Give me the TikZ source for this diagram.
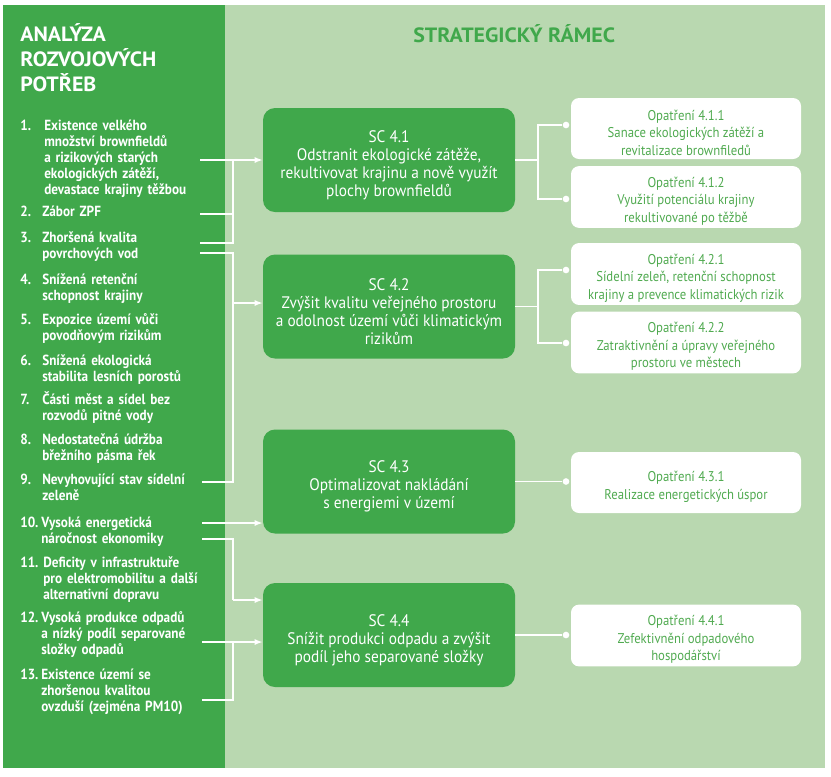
\documentclass[tikz,border=0pt]{standalone}
\usepackage{fontspec}
\setmainfont{PT Sans}
\newfontfamily\condf[FakeStretch=0.9]{PT Sans}
\newfontfamily\scf[FakeStretch=0.92]{PT Sans}
\newfontfamily\ttlf[FakeStretch=1.06]{PT Sans}
\usetikzlibrary{arrows.meta,calc}
\definecolor{dkg}{RGB}{64,168,75}
\definecolor{ltg}{RGB}{185,216,176}
\definecolor{txg}{RGB}{80,170,80}
\newcommand{\sctop}{\rule{0pt}{16.5pt}}
\newcommand{\optop}{\rule{0pt}{14pt}}
\begin{document}
\begin{tikzpicture}[x=0.75pt,y=-0.75pt,
  scbox/.style={fill=dkg, rounded corners=9pt, minimum width=189pt, minimum height=78pt, text=white, align=center, inner sep=2pt, font=\scf\fontsize{12.5}{13.6}\selectfont},
  opbox/.style={fill=white, rounded corners=6pt, minimum width=172.5pt, minimum height=45.75pt, text=txg, align=center, inner sep=2pt, font=\condf\fontsize{10.6}{13.1}\selectfont},
  conn/.style={draw=white, line width=1.1pt},
  arr/.style={conn, -{Latex[length=6pt,width=4.5pt]}},
  dot/.style={circle, fill=white, inner sep=0pt, minimum size=5pt},
  num/.style={anchor=base west, text=white, inner sep=0pt, font=\condf\bfseries\fontsize{11}{12}\selectfont},
  itm/.style={anchor=base west, text=white, inner sep=0pt, align=left, text width=135pt, font=\condf\bfseries\fontsize{11}{12}\selectfont},
  ttl/.style={anchor=base west, inner sep=0pt, font=\ttlf\bfseries\fontsize{15.5}{18.75}\selectfont}
]
\useasboundingbox (0,0) rectangle (831,776);
\fill[white] (0,0) rectangle (831,776);
\fill[dkg] (3,5) rectangle (225,768);
\fill[ltg] (225,5) rectangle (825,768);

% titles
\node[ttl, text=white, align=left, text width=200pt] (ttlL) at (20,41) {ANALÝZA\\ROZVOJOVÝCH\\POTŘEB};
\node[ttl, text=dkg] (ttlR) at (413,42) {STRATEGICKÝ RÁMEC};

% left items
\node[num] (n1) at (20,130.5) {1.};
\node[itm] (t1) at (44,130.5) {Existence velkého\\množství brownfieldů\\a rizikových starých\\ekologických zátěží,\\devastace krajiny těžbou};
\node[num] (n2) at (20,216.5) {2.};
\node[itm] (t2) at (42,216.5) {Zábor ZPF};
\node[num] (n3) at (20,242.5) {3.};
\node[itm] (t3) at (42,242.5) {Zhoršená kvalita\\povrchových vod};
\node[num] (n4) at (20,284.5) {4.};
\node[itm] (t4) at (42,284.5) {Snížená retenční\\schopnost krajiny};
\node[num] (n5) at (20,324.5) {5.};
\node[itm] (t5) at (42,324.5) {Expozice území vůči\\povodňovým rizikům};
\node[num] (n6) at (20,365.5) {6.};
\node[itm] (t6) at (42,365.5) {Snížená ekologická\\stabilita lesních porostů};
\node[num] (n7) at (20,404.5) {7.};
\node[itm] (t7) at (42,404.5) {Části měst a sídel bez\\rozvodů pitné vody};
\node[num] (n8) at (20,444.5) {8.};
\node[itm] (t8) at (42,444.5) {Nedostatečná údržba\\břežního pásma řek};
\node[num] (n9) at (20,484.5) {9.};
\node[itm] (t9) at (42,484.5) {Nevyhovující stav sídelní\\zeleně};
\node[num] (n10) at (20,527.5) {10.};
\node[itm] (t10) at (41,527.5) {Vysoká energetická\\náročnost ekonomiky};
\node[num] (n11) at (20,567.5) {11.};
\node[itm] (t11) at (43,567.5) {Deficity v infrastruktuře\\pro elektromobilitu a další\\alternativní dopravu};
\node[num] (n12) at (20,622.5) {12.};
\node[itm] (t12) at (41,622.5) {Vysoká produkce odpadů\\a nízký podíl separované\\složky odpadů};
\node[num] (n13) at (20,679.5) {13.};
\node[itm] (t13) at (41,679.5) {Existence území se\\zhoršenou kvalitou\\ovzduší (zejména PM10)};

% SC boxes
\node[scbox] (sc41) at (389,160) {\sctop SC 4.1\\Odstranit ekologické zátěže,\\rekultivovat krajinu a nově využít\\plochy brownfieldů};
\node[scbox] (sc42) at (389,306.5) {\sctop SC 4.2\\Zvýšit kvalitu veřejného prostoru\\a odolnost území vůči klimatickým\\rizikům};
\node[scbox] (sc43) at (389,481.5) {\sctop SC 4.3\\Optimalizovat nakládání\\s energiemi v území};
\node[scbox] (sc44) at (389,635) {\sctop SC 4.4\\Snížit produkci odpadu a zvýšit\\podíl jeho separované složky};

% measures
\node[opbox] (op411) at (686,128.5) {\optop Opatření 4.1.1\\Sanace ekologických zátěží a\\revitalizace brownfiledů};
\node[opbox] (op412) at (686,197) {\optop Opatření 4.1.2\\Využití potenciálu krajiny\\rekultivované po těžbě};
\node[opbox] (op421) at (686,274) {\optop Opatření 4.2.1\\Sídelní zeleň, retenční schopnost\\krajiny a prevence klimatických rizik};
\node[opbox] (op422) at (686,342.5) {\optop Opatření 4.2.2\\Zatraktivnění a úpravy veřejného\\prostoru ve městech};
\node[opbox] (op431) at (686,482.5) {\optop Opatření 4.3.1\\Realizace energetických úspor};
\node[opbox] (op441) at (686,635.5) {\optop Opatření 4.4.1\\Zefektivnění odpadového\\hospodářství};

% dots
\node[dot] (d411) at (566,125) {};
\node[dot] (d412) at (566,199) {};
\node[dot] (d421) at (566,270) {};
\node[dot] (d422) at (566,343) {};
\node[dot] (d431) at (566,481.5) {};
\node[dot] (d441) at (566,635) {};

% right connectors
\coordinate (j41) at (538,160);
\coordinate (j42) at (538,306.5);
\draw[conn] (sc41.east) -- (j41) |- (d411);
\draw[conn] (j41) |- (d412);
\draw[conn] (sc42.east) -- (j42) |- (d421);
\draw[conn] (j42) |- (d422);
\draw[conn] (sc43.east) -- (d431);
\draw[conn] (sc44.east) -- (d441);

% left connectors
\coordinate (s1) at (200,160);
\coordinate (s2) at (200,214);
\coordinate (s3a) at (200,243);
\coordinate (s3b) at (200,253);
\coordinate (s9) at (202,482);
\coordinate (s10a) at (202,523);
\coordinate (s10b) at (202,539);
\coordinate (s12) at (202,642);
\coordinate (s13) at (202,700);
\coordinate (ja) at (233,160);
\coordinate (jb) at (233,303);
\coordinate (jd) at (233,600);
\coordinate (je) at (233,642);
\draw[arr] (s1) -- (s1 -| sc41.west);
\draw[conn] (s2) -| (ja);
\draw[conn] (s3a) -| (ja);
\draw[conn] (s3b) -| (jb);
\draw[conn] (s9) -| (jb);
\draw[arr] (jb) -- (jb -| sc42.west);
\draw[arr] (s10a) -- (s10a -| sc43.west);
\draw[conn] (s10b) -| (jd);
\draw[arr] (jd) -- (jd -| sc44.west);
\draw[arr] (s12) -- (s12 -| sc44.west);
\draw[conn] (s13) -| (je);
\end{tikzpicture}
\end{document}
